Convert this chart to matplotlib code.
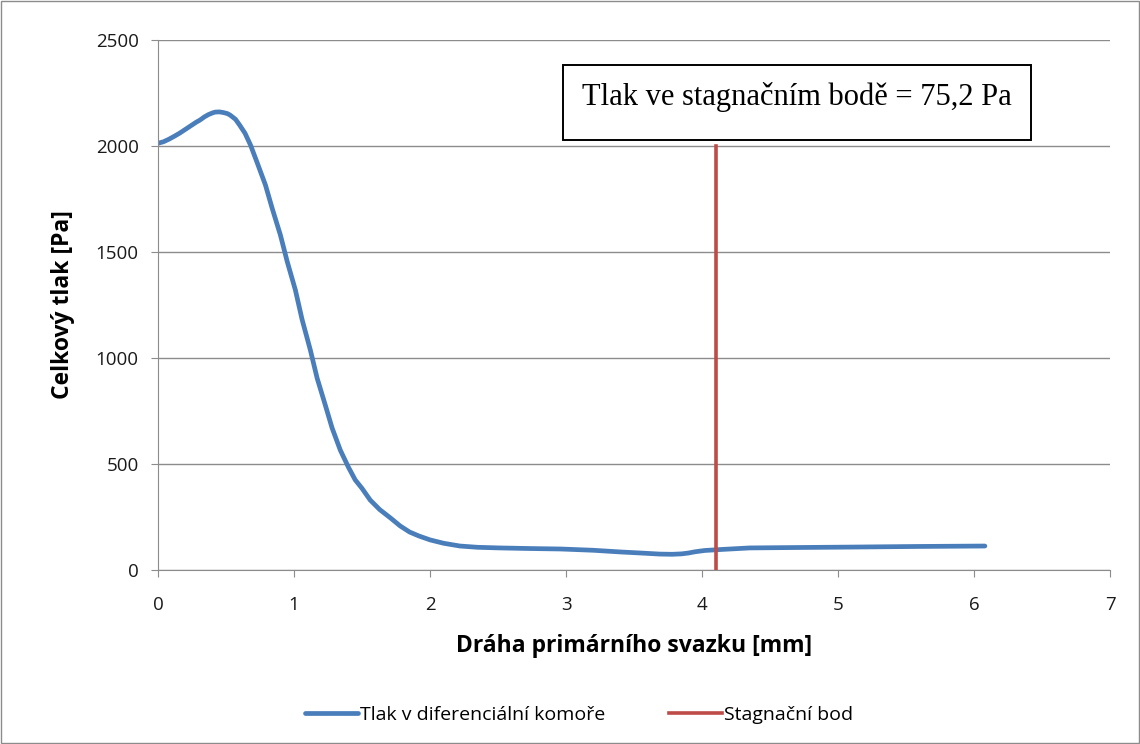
import numpy as np
import matplotlib
matplotlib.use("Agg")
import matplotlib.pyplot as plt

# values
draha_mm = [0.00, 0.04, 0.08, 0.12, 0.16, 0.20, 0.24, 0.28, 0.31, 0.34, 0.37,
            0.40, 0.42, 0.45, 0.48, 0.51, 0.53, 0.57, 0.60, 0.64, 0.68, 0.73,
            0.79, 0.84, 0.90, 0.95, 1.01, 1.06, 1.12, 1.17, 1.23, 1.28, 1.34,
            1.40, 1.45, 1.50, 1.56, 1.63, 1.71, 1.78, 1.85, 1.92, 2.00, 2.10,
            2.22, 2.35, 2.51, 2.75, 2.96, 3.20, 3.40, 3.55, 3.69, 3.78, 3.85,
            3.90, 3.95, 4.02, 4.15, 4.35, 4.70, 5.09, 5.60, 6.08]
tlak_pa = [2013, 2020, 2032, 2046, 2061, 2078, 2095, 2112, 2123, 2137, 2148,
           2156, 2160, 2161, 2158, 2153, 2146, 2126, 2099, 2060, 2005, 1920,
           1816, 1705, 1580, 1455, 1321, 1180, 1038, 905, 778, 670, 566,
           485, 425, 385, 330, 285, 245, 208, 179, 160, 142, 126,
           113, 107, 104, 101, 99, 93, 85, 80, 75, 74, 76,
           80, 86, 92, 97, 104, 106, 108, 111, 113]

stag_x = 4.10
stag_y = [0, 2000]
popisek = "Tlak ve stagnačním bodě = 75,2 Pa"

plt.rcParams['font.family'] = ['Open Sans', 'DejaVu Sans']

fig = plt.figure(figsize=(11.4, 7.44), dpi=100)
ax = fig.add_axes([0.1386, 0.2339, 0.8351, 0.7123])

ax.plot(draha_mm, tlak_pa, color='#4A7EBB', lw=3.4, solid_capstyle='round',
        solid_joinstyle='round', label='Tlak v diferenciální komoře')
ax.plot([stag_x, stag_x], stag_y, color='#BE4B48', lw=2.6,
        label='Stagnační bod')

ax.set_xlim(0, 7)
ax.set_ylim(0, 2500)
ax.set_xticks(range(0, 8))
ax.set_yticks(range(0, 2501, 500))
ax.yaxis.grid(True, color='#8c8c8c', lw=1)
ax.set_axisbelow(True)
for s in ['top', 'right']:
    ax.spines[s].set_visible(False)
for s in ['left', 'bottom']:
    ax.spines[s].set_color('#8c8c8c')
ax.tick_params(axis='both', colors='#8c8c8c', labelcolor='#1a1a1a',
               labelsize=13.5, length=5, direction='out')
ax.tick_params(axis='x', pad=14)
ax.tick_params(axis='y', pad=9)

ax.set_xlabel('Dráha primárního svazku [mm]', fontsize=16.5, fontweight='bold', labelpad=14)
ax.set_ylabel('Celkový tlak [Pa]', fontsize=16.5, fontweight='bold', labelpad=15)

# text box with the stagnation pressure
ax.add_patch(plt.Rectangle((0.4254, 0.8113), 0.4916, 0.1415, transform=ax.transAxes,
                           fc='white', ec='black', lw=1.4, zorder=4))
ax.text(0.671, 0.8925, popisek, transform=ax.transAxes, family='Liberation Serif',
        fontsize=22, ha='center', va='center', zorder=5)

fig.legend(loc='center', bbox_to_anchor=(0.508, 0.039), ncol=2, frameon=False,
           fontsize=14, handlelength=2.7, handletextpad=0.1, columnspacing=3.3)

fig.patches.append(plt.Rectangle((0.001, 0.001), 0.998, 0.998, transform=fig.transFigure,
                                 fill=False, ec='#8c8c8c', lw=1))

fig.savefig('out.png', dpi=100)
